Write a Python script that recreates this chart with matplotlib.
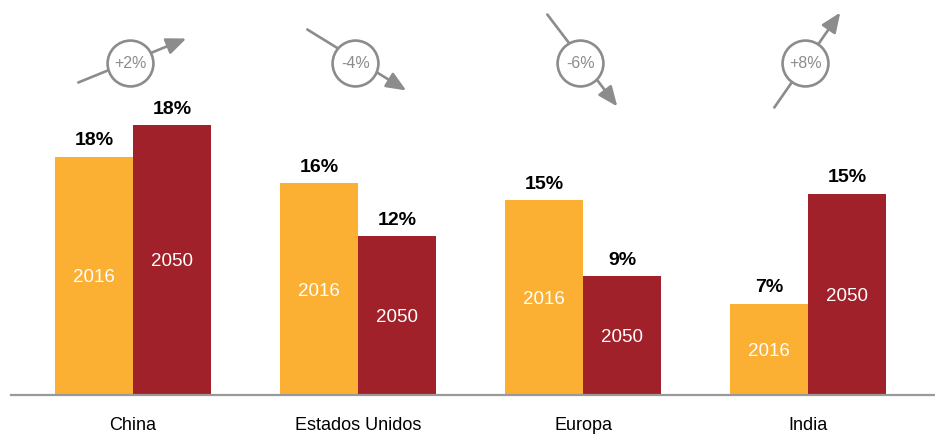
import matplotlib.pyplot as plt
from matplotlib.patches import FancyArrowPatch

plt.rcParams['font.family'] = ['Liberation Sans', 'DejaVu Sans']

regions = ["China", "Estados Unidos", "Europa", "India"]
# bar heights as drawn (percent)
share_2016 = [18.0, 16.0, 14.7, 6.9]
share_2050 = [20.4, 12.0, 9.0, 15.2]
labels_2016 = ["18%", "16%", "15%", "7%"]
labels_2050 = ["18%", "12%", "9%", "15%"]
changes = ["+2%", "-4%", "-6%", "+8%"]
# arrow tail / tip offsets from circle centre, in pixels (x right, y down)
arrow_tail = [(-52, 20), (-48, -33), (-33, -48), (-31, 45)]
arrow_tip = [(56, -24), (51, 28), (37, 44), (35, -50)]

c2016 = "#FBB034"
c2050 = "#A0212A"
grey = "#8C8C8C"

W, H = 935, 434
fig = plt.figure(figsize=(W / 100, H / 100), dpi=100)
base_px = 395
left_px = 11
ax = fig.add_axes([left_px / W, (H - base_px) / H, 1 - left_px / W, base_px / H])

px_x = 225.0   # pixels per group
px_y = 13.25   # pixels per percent
ax.set_xlim((left_px - 133) / px_x, (W - 133) / px_x)
ax.set_ylim(0, base_px / px_y)

x = list(range(len(regions)))
bw = 0.347
b1 = ax.bar([i - bw / 2 for i in x], share_2016, width=bw, color=c2016, edgecolor="none")
b2 = ax.bar([i + bw / 2 for i in x], share_2050, width=bw, color=c2050, edgecolor="none")

for bars, labs, yr in [(b1, labels_2016, "2016"), (b2, labels_2050, "2050")]:
    for r, lab in zip(bars, labs):
        cx = r.get_x() + r.get_width() / 2
        h = r.get_height()
        ax.annotate(lab, (cx, h), xytext=(0, 8), textcoords="offset points",
                    ha="center", va="baseline", fontsize=14, fontweight="bold",
                    color="black")
        ax.text(cx, h / 2, yr, ha="center", va="center_baseline", fontsize=13.5,
                color="white")

# change indicators
circle_y = (base_px - 62.5) / px_y
for i, ch in enumerate(changes):
    cx = i - 0.012
    tx, ty = arrow_tail[i]
    hx, hy = arrow_tip[i]
    tail = (cx + tx / px_x, circle_y - ty / px_y)
    tip = (cx + hx / px_x, circle_y - hy / px_y)
    arr = FancyArrowPatch(tail, tip, arrowstyle="-|>,head_length=1.0,head_width=0.42",
                          mutation_scale=12, color=grey, lw=1.9,
                          shrinkA=0, shrinkB=0, clip_on=False, zorder=3)
    ax.add_patch(arr)
    ax.plot([cx], [circle_y], marker="o", markersize=33, markerfacecolor="white",
            markeredgecolor=grey, markeredgewidth=1.9, zorder=4, clip_on=False)
    ax.text(cx, circle_y, ch, ha="center", va="center_baseline", fontsize=11.5,
            color=grey, zorder=5)

for s in ["top", "right", "left"]:
    ax.spines[s].set_visible(False)
ax.spines["bottom"].set_color("#999999")
ax.spines["bottom"].set_linewidth(1.6)
ax.set_yticks([])
ax.set_xticks(x)
ax.set_xticklabels(regions, fontsize=13)
ax.tick_params(axis="x", length=0, pad=16)

fig.savefig("out.png", dpi=100)
